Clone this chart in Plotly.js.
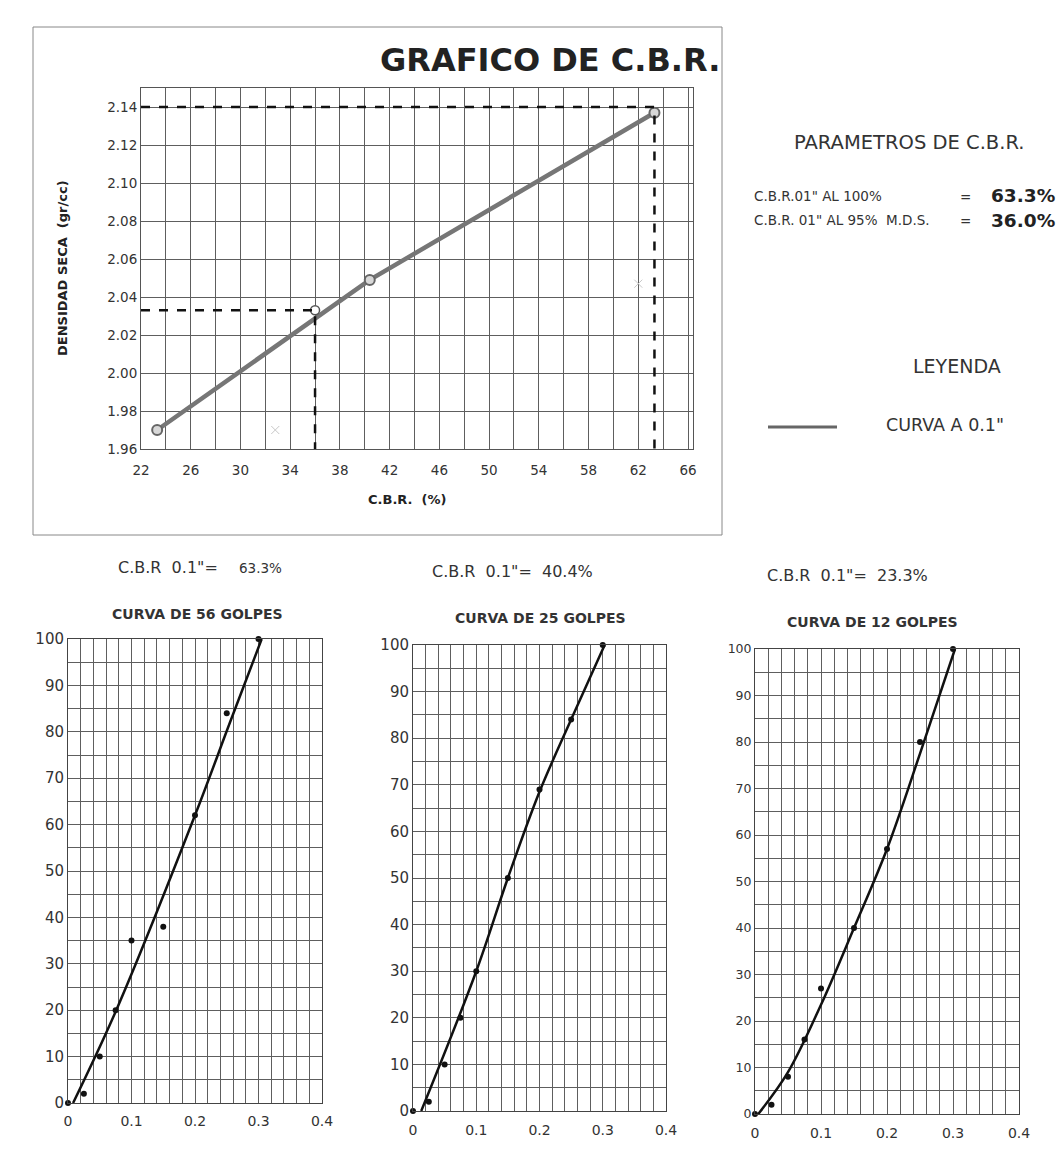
<!DOCTYPE html>
<html>
<head>
<meta charset="utf-8">
<script src="https://cdn.plot.ly/plotly-3.0.1.min.js"></script>
<style>html,body{margin:0;padding:0;background:#fff;}#chart{width:1062px;height:1150px;}</style>
</head>
<body>
<div id="chart"></div>
<script>
// ---- Top chart: dry density vs CBR ----
const cbrValues = [23.3, 40.4, 63.3];
const densValues = [1.970, 2.049, 2.137];
const cbr100 = 63.3;
const cbr95 = 36.0;
const densMax = 2.14;
const dens95 = 2.033;
const densMin = 1.96;
const cbrMin = 22;
const ghostX = [32.8, 62.0];
const ghostY = [1.970, 2.047];

// ---- Lower charts: load curves ----
const penetration = [0, 0.025, 0.05, 0.075, 0.1, 0.15, 0.2, 0.25, 0.3];
const load56 = [0, 2, 10, 20, 35, 38, 62, 84, 100];
const load25 = [0, 2, 10, 20, 30, 50, 69, 84, 100];
const load12 = [0, 2, 8, 16, 27, 40, 57, 80, 100];
const fit56X = [0.008, 0.076, 0.2, 0.255, 0.305];
const fit56Y = [0, 20, 62, 82, 100];
const fit25X = [0.013, 0.1, 0.15, 0.2, 0.25, 0.303];
const fit25Y = [0, 30, 50, 68.5, 84, 100];
const fit12X = [0.005, 0.05, 0.1, 0.15, 0.2, 0.25, 0.303];
const fit12Y = [0, 9, 23.5, 40, 57, 77.5, 100];
const cbrLabels = ['63.3%', '40.4%', '23.3%'];
const curveTitles = ['CURVA DE 56 GOLPES', 'CURVA DE 25 GOLPES', 'CURVA DE 12 GOLPES'];

const W = 1062, H = 1150;
const px = v => v / W;
const py = v => 1 - v / H;
const FONT = 'DejaVu Sans, Verdana, sans-serif';

const traces = [];
traces.push({x: cbrValues, y: densValues, xaxis: 'x', yaxis: 'y', mode: 'lines+markers',
  line: {color: '#767676', width: 4.5}, marker: {size: 10, color: '#d8d8d8', line: {color: '#666', width: 2}},
  cliponaxis: false, showlegend: false});
traces.push({x: [cbr95], y: [dens95], xaxis: 'x', yaxis: 'y', mode: 'markers',
  marker: {size: 9, color: '#fff', line: {color: '#555', width: 1.5}}, showlegend: false});
traces.push({x: [cbrMin, cbr100, cbr100], y: [densMax, densMax, densMin], xaxis: 'x', yaxis: 'y', mode: 'lines',
  line: {color: '#111', width: 2.5, dash: 'dash'}, cliponaxis: false, showlegend: false});
traces.push({x: [cbrMin, cbr95, cbr95], y: [dens95, dens95, densMin], xaxis: 'x', yaxis: 'y', mode: 'lines',
  line: {color: '#111', width: 2.5, dash: 'dash'}, cliponaxis: false, showlegend: false});
traces.push({x: ghostX, y: ghostY, xaxis: 'x', yaxis: 'y', mode: 'markers',
  marker: {symbol: 'x-thin', size: 8, line: {color: '#c8c8c8', width: 1}}, showlegend: false});

const lower = [
  {pts: load56, fx: fit56X, fy: fit56Y},
  {pts: load25, fx: fit25X, fy: fit25Y},
  {pts: load12, fx: fit12X, fy: fit12Y}
];
lower.forEach((c, i) => {
  const xa = 'x' + (i + 2), ya = 'y' + (i + 2);
  traces.push({x: c.fx, y: c.fy, xaxis: xa, yaxis: ya, mode: 'lines',
    line: {color: '#111', width: 2.5, shape: 'spline', smoothing: 1}, cliponaxis: false, showlegend: false});
  traces.push({x: penetration, y: c.pts, xaxis: xa, yaxis: ya, mode: 'markers',
    marker: {color: '#111', size: 6}, cliponaxis: false, showlegend: false});
});

const gridCol = '#5e5e5e';
const layout = {
  width: W, height: H, margin: {l: 0, r: 0, t: 0, b: 0},
  paper_bgcolor: '#fff', plot_bgcolor: '#fff', showlegend: false,
  font: {family: FONT, color: '#333'},
  xaxis: {domain: [px(141), px(693)], range: [22, 66.4], tick0: 22, dtick: 4, showgrid: true,
    gridcolor: gridCol, gridwidth: 1, minor: {dtick: 2, showgrid: true, gridcolor: gridCol, gridwidth: 1},
    zeroline: false, showline: true, linecolor: '#555', mirror: true, ticks: '', ticklabelstandoff: 9,
    tickfont: {size: 13.5, color: '#333', family: FONT}, anchor: 'y'},
  yaxis: {domain: [py(449), py(88)], range: [1.96, 2.15], tick0: 1.96, dtick: 0.02, tickformat: '.2f',
    showgrid: true, gridcolor: gridCol, gridwidth: 1, zeroline: false, showline: true, linecolor: '#555', mirror: true,
    ticks: '', tickfont: {size: 13.5, color: '#333', family: FONT}, anchor: 'x'},
  annotations: [], shapes: []
};

const lowerGeom = [
  {x0: 68, x1: 322, y0: 1103, y1: 639, yfont: 15, so: 5},
  {x0: 413, x1: 666, y0: 1111, y1: 645, yfont: 15, so: 6},
  {x0: 755, x1: 1019, y0: 1114, y1: 649, yfont: 12.5, so: 6}
];
lowerGeom.forEach((g, i) => {
  const n = i + 2;
  layout['xaxis' + n] = {domain: [px(g.x0), px(g.x1)], range: [0, 0.4], dtick: 0.1, tick0: 0,
    showgrid: true, gridcolor: gridCol, gridwidth: 1, minor: {dtick: 0.02, showgrid: true, gridcolor: gridCol, gridwidth: 1},
    zeroline: false, showline: true, linecolor: '#444', mirror: true, ticks: '', anchor: 'y' + n,
    ticklabelstandoff: g.so, tickfont: {size: 14, color: '#333', family: FONT}};
  layout['yaxis' + n] = {domain: [py(g.y0), py(g.y1)], range: [0, 100], dtick: 10, tick0: 0,
    showgrid: true, gridcolor: gridCol, gridwidth: 1, minor: {dtick: 5, showgrid: true, gridcolor: gridCol, gridwidth: 1},
    zeroline: false, showline: true, linecolor: '#444', mirror: true, ticks: '', anchor: 'x' + n,
    tickfont: {size: g.yfont, color: '#333', family: FONT}};
});

function txt(x, y, text, size, opts) {
  const o = Object.assign({bold: false, anchor: 'left', color: '#333'}, opts || {});
  layout.annotations.push({xref: 'paper', yref: 'paper', x: px(x), y: py(y),
    text: o.bold ? '<b>' + text + '</b>' : text, textangle: o.angle || 0,
    showarrow: false, xanchor: o.anchor, yanchor: 'middle', font: {family: FONT, size: size, color: o.color}});
}
// top section
txt(722, 60, 'GRAFICO DE C.B.R.', 32, {bold: true, anchor: 'right', color: '#222'});
txt(62, 268, 'DENSIDAD SECA  (gr/cc)', 13, {bold: true, anchor: 'center', angle: -90, color: '#222'});
txt(407, 500, 'C.B.R.  (%)', 13, {bold: true, anchor: 'center', color: '#222'});
layout.shapes.push({type: 'rect', xref: 'paper', yref: 'paper', x0: px(33), x1: px(722), y0: py(535), y1: py(27),
  line: {color: '#888', width: 1}});

// right panel
txt(792, 143, 'PARAMETROS DE C.B.R.', 19.5);
txt(752, 196, 'C.B.R.01" AL 100%', 13.5);
txt(958, 197, '=', 13.5);
txt(1057, 196, cbrLabels[0], 18.5, {bold: true, anchor: 'right', color: '#222'});
txt(752, 220, 'C.B.R. 01" AL 95%  M.D.S.', 13.5);
txt(958, 221, '=', 13.5);
txt(1057, 220, cbr95.toFixed(1) + '%', 18.5, {bold: true, anchor: 'right', color: '#222'});
txt(911, 366, 'LEYENDA', 19);
layout.shapes.push({type: 'line', xref: 'paper', yref: 'paper', x0: px(768), x1: px(837), y0: py(427), y1: py(427),
  line: {color: '#666', width: 3}});
txt(884, 425, 'CURVA A 0.1"', 17.5);

// lower headers
txt(116, 567, 'C.B.R  0.1"=', 16);
txt(237, 568, cbrLabels[0], 13.5);
txt(430, 571, 'C.B.R  0.1"=  ' + cbrLabels[1], 16);
txt(765, 575, 'C.B.R  0.1"=  ' + cbrLabels[2], 16);
const titleCenters = [[197, 614], [540, 618], [872, 622]];
curveTitles.forEach((t, i) => {
  txt(titleCenters[i][0], titleCenters[i][1], t, 14, {bold: true, anchor: 'center', color: '#333'});
});

Plotly.newPlot('chart', traces, layout, {staticPlot: true, displayModeBar: false});
</script>
</body>
</html>
